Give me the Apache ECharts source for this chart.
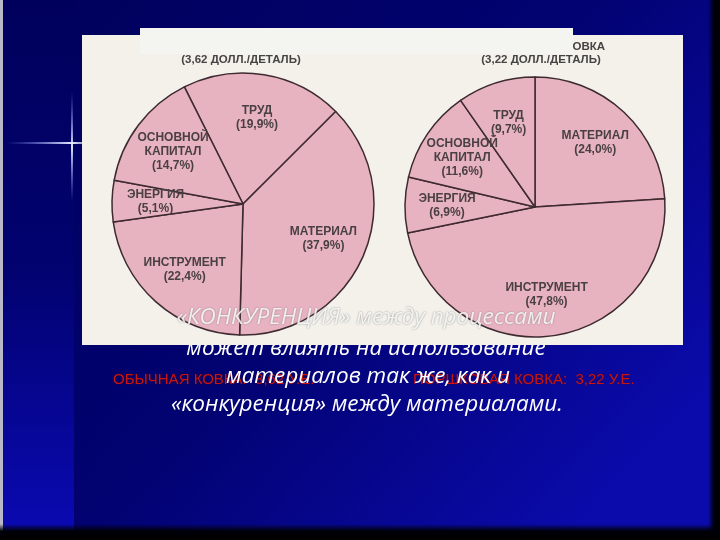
<!DOCTYPE html>
<html>
<head>
<meta charset="utf-8">
<script src="https://cdn.jsdelivr.net/npm/echarts@6/dist/echarts.min.js"></script>
<style>
html,body{margin:0;padding:0;background:#000;}
#chart{width:720px;height:540px;}
</style>
</head>
<body>
<div id="chart"></div>
<script>
// ---- data ----
const leftTitle = ['ОБЫЧНАЯ КОВКА', '(3,62 ДОЛЛ./ДЕТАЛЬ)'];
const rightTitle = ['ПОРОШКОВАЯ КОВКА', '(3,22 ДОЛЛ./ДЕТАЛЬ)'];
const leftCategories = ['ТРУД', 'МАТЕРИАЛ', 'ИНСТРУМЕНТ', 'ЭНЕРГИЯ', 'ОСНОВНОЙ КАПИТАЛ'];
const leftValues = [19.9, 37.9, 22.4, 5.1, 14.7];
const rightCategories = ['МАТЕРИАЛ', 'ИНСТРУМЕНТ', 'ЭНЕРГИЯ', 'ОСНОВНОЙ КАПИТАЛ', 'ТРУД'];
const rightValues = [24.0, 47.8, 6.9, 11.6, 9.7];
const slideLines = [
  '«КОНКУРЕНЦИЯ» между процессами',
  'может влиять на использование',
  'материалов так же, как и',
  '«конкуренция» между материалами.'
];
const costLabels = ['ОБЫЧНАЯ КОВКА:  3,62 У.Е.', 'ПОРШКОВАЯ КОВКА:  3,22 У.Е.'];

// ---- chart ----
const chart = echarts.init(document.getElementById('chart'), null, {renderer: 'canvas'});

function toData(cats, vals) {
  return cats.map((c, i) => ({name: c, value: vals[i]}));
}
function fmt(p) {
  return p.name.replace(' ', '\n') + '\n(' + p.value.toFixed(1).replace('.', ',') + '%)';
}
const pieColor = '#e8b3c0';
const edgeColor = '#3e2a31';
const labelStyle = {
  show: true, position: 'inside', rotate: 0, formatter: fmt,
  color: '#4a4044', fontSize: 12, fontWeight: 'bold', lineHeight: 14,
  fontFamily: "'Liberation Sans', Arial, sans-serif"
};

function pieSeries(data, center, r, r0lab, start) {
  return [
    {
      type: 'pie', center: center, radius: [0, r], startAngle: start, clockwise: true,
      data: data, label: {show: false}, labelLine: {show: false}, silent: true,
      itemStyle: {color: pieColor, borderColor: edgeColor, borderWidth: 1.5},
      z: 2
    },
    {
      type: 'pie', center: center, radius: [r0lab, r], startAngle: start, clockwise: true,
      avoidLabelOverlap: false, minShowLabelAngle: 0,
      data: data, label: labelStyle, labelLine: {show: false}, silent: true,
      labelLayout: {hideOverlap: false},
      itemStyle: {color: 'rgba(0,0,0,0)', borderWidth: 0},
      z: 3
    }
  ];
}

const whiteText = {
  fill: '#ffffff', fontSize: 22.5, fontStyle: 'italic',
  fontFamily: "'Open Sans', 'Noto Sans', sans-serif", textAlign: 'center', textVerticalAlign: 'middle'
};
const titleStyle = {fontSize: 11.5, fontWeight: 'bold', color: '#444', lineHeight: 13, fontFamily: "'Liberation Sans', Arial, sans-serif"};
const redStyle = {fill: '#c81414', fontSize: 15, fontFamily: "'Liberation Sans Narrow', 'Liberation Sans', Arial",
  textVerticalAlign: 'middle', textShadowColor: 'rgba(70,0,0,0.7)', textShadowBlur: 2};

const option = {
  animation: false,
  backgroundColor: {
    type: 'linear', x: 0, y: 0, x2: 0.8, y2: 1,
    colorStops: [{offset: 0, color: '#00005a'}, {offset: 0.55, color: '#020272'}, {offset: 1, color: '#0b0bac'}]
  },
  title: [
    {text: leftTitle.join('\n'), left: 241, top: 40, textAlign: 'center', textStyle: titleStyle, padding: 0, z: 6},
    {text: rightTitle.join('\n'), left: 541, top: 40, textAlign: 'center', textStyle: titleStyle, padding: 0, z: 6}
  ],
  graphic: [
    // left strip
    {type: 'rect', z: -20, shape: {x: 0, y: 0, width: 74, height: 540},
     style: {fill: {type: 'linear', x: 0, y: 0, x2: 0, y2: 1, colorStops: [{offset: 0, color: '#00005c'}, {offset: 0.5, color: '#020270'}, {offset: 1, color: '#0a0ab4'}]}}},
    {type: 'rect', z: -19, shape: {x: 0, y: 0, width: 3, height: 540}, style: {fill: '#b8b8c8'}},
    // sparkle
    {type: 'rect', z: -18, shape: {x: 71, y: 92, width: 2, height: 110},
     style: {fill: {type: 'linear', x: 0, y: 0, x2: 0, y2: 1, colorStops: [{offset: 0, color: 'rgba(120,140,255,0)'}, {offset: 0.5, color: 'rgba(220,230,255,1)'}, {offset: 1, color: 'rgba(120,140,255,0)'}]}}},
    {type: 'rect', z: -18, shape: {x: 6, y: 142, width: 78, height: 2},
     style: {fill: {type: 'linear', x: 0, y: 0, x2: 1, y2: 0, colorStops: [{offset: 0, color: 'rgba(120,140,255,0)'}, {offset: 0.85, color: 'rgba(230,235,255,1)'}, {offset: 1, color: 'rgba(230,235,255,0.6)'}]}}},
    // right / bottom dark borders
    {type: 'rect', z: -17, shape: {x: 708, y: 0, width: 12, height: 540},
     style: {fill: {type: 'linear', x: 0, y: 0, x2: 1, y2: 0, colorStops: [{offset: 0, color: 'rgba(0,0,0,0)'}, {offset: 0.5, color: '#000010'}, {offset: 1, color: '#000'}]}}},
    {type: 'rect', z: -17, shape: {x: 0, y: 524, width: 720, height: 16},
     style: {fill: {type: 'linear', x: 0, y: 0, x2: 0, y2: 1, colorStops: [{offset: 0, color: 'rgba(0,0,0,0)'}, {offset: 0.45, color: '#000008'}, {offset: 1, color: '#000'}]}}},
    // line under panel (partly hidden)
    {type: 'text', z: -6, x: 366, y: 349, style: Object.assign({text: slideLines[1]}, whiteText)},
    // panel
    {type: 'rect', z: -5, shape: {x: 82, y: 35, width: 601, height: 310}, style: {fill: '#f3f1ea'}},
    {type: 'rect', z: -5, shape: {x: 140, y: 28, width: 433, height: 10}, style: {fill: '#f4f4f1'}},
    // bar covering first title line
    {type: 'rect', z: 20, shape: {x: 140, y: 28, width: 433, height: 26}, style: {fill: '#f4f4f1'}},
    // red cost labels
    {type: 'text', z: 40, x: 113, y: 380, style: Object.assign({text: costLabels[0]}, redStyle)},
    {type: 'text', z: 40, x: 413, y: 380, style: Object.assign({text: costLabels[1]}, redStyle)},
    // white texts
    {type: 'text', z: 50, x: 366, y: 318, style: Object.assign({text: slideLines[0], textShadowColor: 'rgba(110,110,110,0.9)', textShadowBlur: 2, opacity: 0.85}, whiteText)},
    {type: 'text', z: 50, x: 368, y: 377, style: Object.assign({text: slideLines[2]}, whiteText)},
    {type: 'text', z: 50, x: 367, y: 405, style: Object.assign({text: slideLines[3]}, whiteText)}
  ],
  series: [].concat(
    pieSeries(toData(leftCategories, leftValues), [243, 204], 131, 38, 116.6),
    pieSeries(toData(rightCategories, rightValues), [535, 207], 130, 40, 90)
  )
};
chart.setOption(option);
</script>
</body>
</html>
